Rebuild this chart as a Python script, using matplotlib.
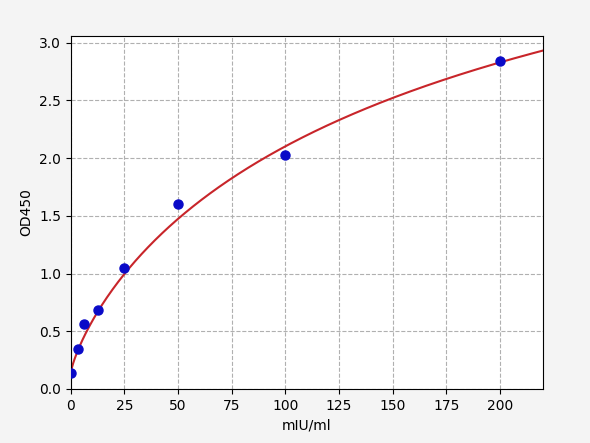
import numpy as np
import matplotlib
matplotlib.use("Agg")
import matplotlib.pyplot as plt

conc = [0, 3.125, 6.25, 12.5, 25, 50, 100, 200]
od = [0.14, 0.35, 0.56, 0.68, 1.05, 1.60, 2.03, 2.84]

# 4PL fit parameters (estimated)
fit_a, fit_b, fit_c, fit_d = 0.14, 0.8, 200.0, 5.52

x_ticks = [0, 25, 50, 75, 100, 125, 150, 175, 200]
y_ticks = [0.0, 0.5, 1.0, 1.5, 2.0, 2.5, 3.0]

fig = plt.figure(figsize=(5.9, 4.43), dpi=100, facecolor="#f4f4f4")
ax = fig.add_axes([0.120, 0.122, 0.800, 0.797])
ax.set_facecolor("white")

xs = np.linspace(0, 220, 600)
ys = fit_d + (fit_a - fit_d) / (1 + (xs / fit_c) ** fit_b)
ax.plot(xs, ys, color="#c8252a", lw=1.5, zorder=2)
ax.plot(conc, od, "o", color="#0a0ac8", ms=6.5, zorder=3)

ax.set_xlim(0, 220)
ax.set_ylim(0, 3.06)
ax.set_xticks(x_ticks)
ax.set_yticks(y_ticks)
ax.set_xticklabels([str(t) for t in x_ticks])
ax.set_yticklabels([f"{t:.1f}" for t in y_ticks])
ax.grid(True, ls="--", color="#b0b0b0", lw=0.8)
ax.set_axisbelow(True)
ax.set_xlabel("mIU/ml")
ax.set_ylabel("OD450")

fig.savefig("out.png", dpi=100, facecolor=fig.get_facecolor())
